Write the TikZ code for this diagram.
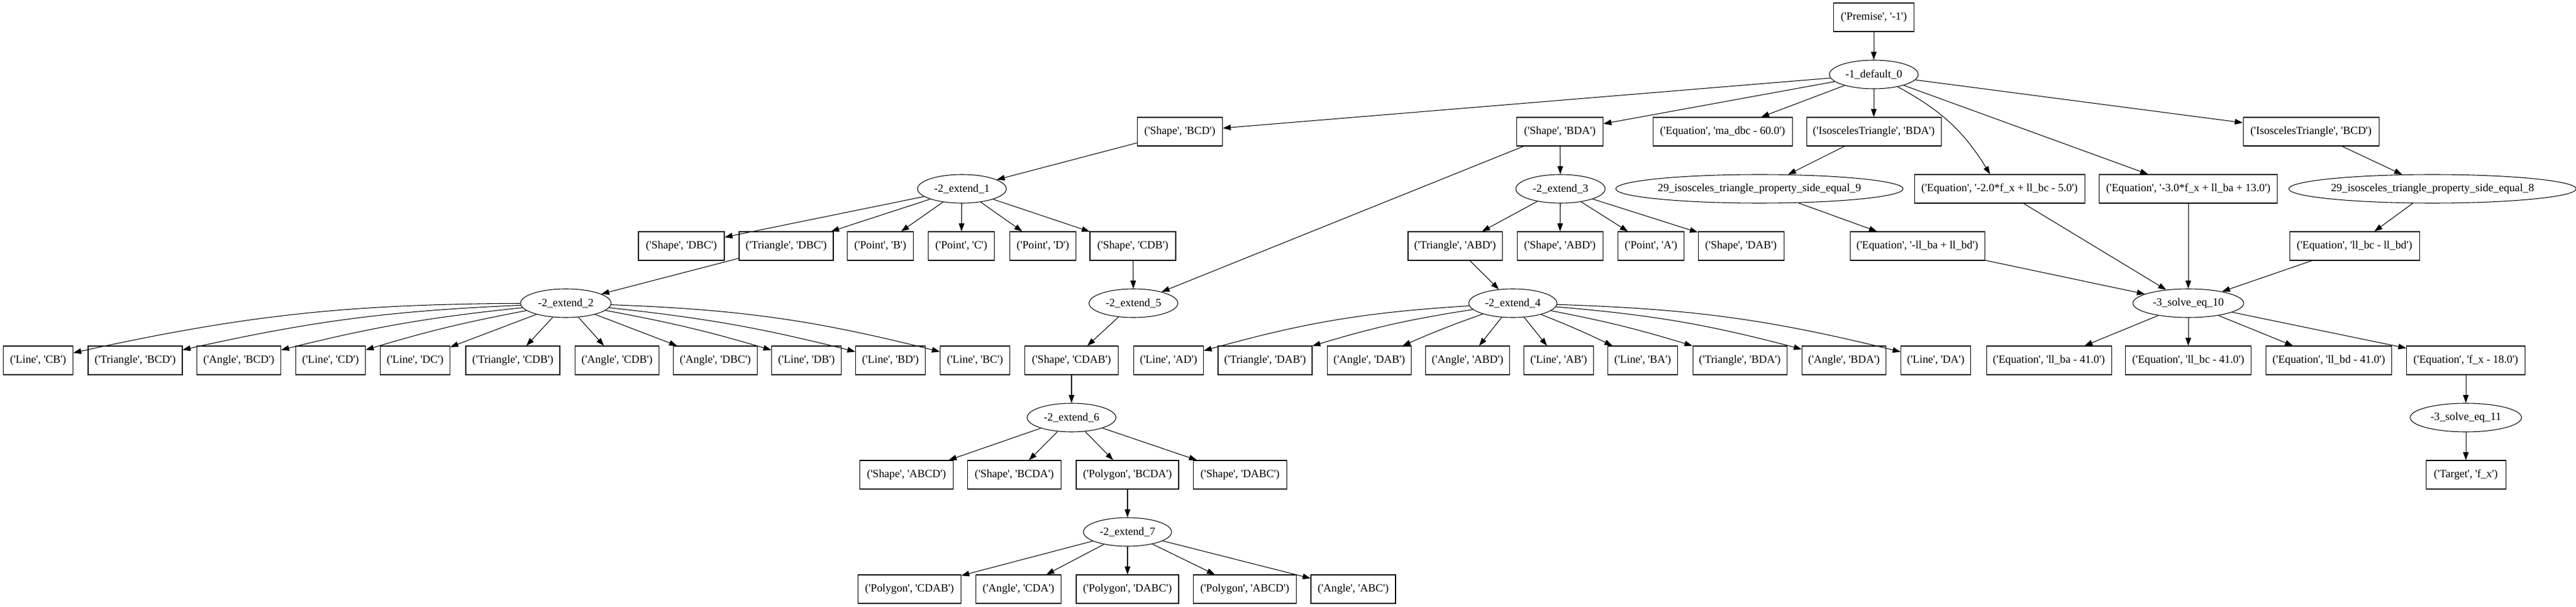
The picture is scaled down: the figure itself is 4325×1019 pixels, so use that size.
\documentclass[tikz,border=0pt]{standalone}
\usepackage{fontspec}
\setmainfont{Liberation Serif}[Ligatures=TeXOff]
\usetikzlibrary{shapes.geometric,arrows.meta}
\newcommand{\gvfont}{\fontsize{14pt}{16pt}\selectfont}
\begin{document}
\begin{tikzpicture}[x=0.75pt,y=0.75pt,
  box/.style={draw, rectangle, minimum height=36pt, inner xsep=3pt, inner ysep=0pt, line width=0.8pt, font=\gvfont},
  bw/.style={minimum width=#1*0.75pt},
  oval/.style={draw, ellipse, minimum height=36pt, inner sep=0pt, line width=0.8pt, font=\gvfont},
  arr/.style={-{Triangle[length=10pt,width=7pt]}, line width=0.8pt}]
\useasboundingbox (0,0) rectangle (4325,-1019);
% row 0-2
\node[box,bw=135] (prem) at (3146,-29) {('Premise', '-1')};
\node[oval,bw=149] (d0) at (3146,-125) {-1\_default\_0};
\node[box,bw=143] (sBCD) at (1981,-221) {('Shape', 'BCD')};
\node[box,bw=145] (sBDA) at (2619,-221) {('Shape', 'BDA')};
\node[box,bw=234] (eqma) at (2892,-221) {('Equation', 'ma\_dbc - 60.0')};
\node[box,bw=226] (itBDA) at (3146,-221) {('IsoscelesTriangle', 'BDA')};
\node[box,bw=228] (itBCD) at (3880,-221) {('IsoscelesTriangle', 'BCD')};
% row 3
\node[oval,bw=149] (e1) at (1615,-317) {-2\_extend\_1};
\node[oval,bw=150] (e3) at (2620,-317) {-2\_extend\_3};
\node[oval,bw=469] (i9) at (2954,-317) {29\_isosceles\_triangle\_property\_side\_equal\_9};
\node[box,bw=286] (eq2) at (3357,-317) {('Equation', '-2.0*f\_x + ll\_bc - 5.0')};
\node[box,bw=299] (eq3) at (3674,-317) {('Equation', '-3.0*f\_x + ll\_ba + 13.0')};
\node[oval,bw=470] (i8) at (4084,-317) {29\_isosceles\_triangle\_property\_side\_equal\_8};
% row 4
\node[box,bw=144] (sDBC) at (1144,-413) {('Shape', 'DBC')};
\node[box,bw=158] (tDBC) at (1320,-413) {('Triangle', 'DBC')};
\node[box,bw=111] (pB) at (1478,-413) {('Point', 'B')};
\node[box,bw=111] (pC) at (1614,-413) {('Point', 'C')};
\node[box,bw=111] (pD) at (1751,-413) {('Point', 'D')};
\node[box,bw=144] (sCDB) at (1902,-413) {('Shape', 'CDB')};
\node[box,bw=158] (tABD) at (2443,-413) {('Triangle', 'ABD')};
\node[box,bw=144] (sABD) at (2619,-413) {('Shape', 'ABD')};
\node[box,bw=111] (pA) at (2772,-413) {('Point', 'A')};
\node[box,bw=144] (sDAB) at (2923,-413) {('Shape', 'DAB')};
\node[box,bw=226] (eqbabd) at (3219,-413) {('Equation', '-ll\_ba + ll\_bd')};
\node[box,bw=218] (eqbcbd) at (3953,-413) {('Equation', 'll\_bc - ll\_bd')};
% row 5
\node[oval,bw=152] (e2) at (950,-509) {-2\_extend\_2};
\node[oval,bw=149] (e5) at (1903,-509) {-2\_extend\_5};
\node[oval,bw=148] (e4) at (2540,-509) {-2\_extend\_4};
\node[oval,bw=186] (s10) at (3674,-509) {-3\_solve\_eq\_10};
% row 6
\node[box,bw=117] (lCB) at (64,-605) {('Line', 'CB')};
\node[box,bw=158] (tBCD) at (227,-605) {('Triangle', 'BCD')};
\node[box,bw=141] (aBCD) at (401,-605) {('Angle', 'BCD')};
\node[box,bw=117] (lCD) at (555,-605) {('Line', 'CD')};
\node[box,bw=117] (lDC) at (697,-605) {('Line', 'DC')};
\node[box,bw=158] (tCDB) at (861,-605) {('Triangle', 'CDB')};
\node[box,bw=141] (aCDB) at (1036,-605) {('Angle', 'CDB')};
\node[box,bw=141] (aDBC) at (1201,-605) {('Angle', 'DBC')};
\node[box,bw=117] (lDB) at (1354,-605) {('Line', 'DB')};
\node[box,bw=117] (lBD) at (1495,-605) {('Line', 'BD')};
\node[box,bw=117] (lBC) at (1637,-605) {('Line', 'BC')};
\node[box,bw=157] (sCDAB) at (1799,-605) {('Shape', 'CDAB')};
\node[box,bw=117] (lAD) at (1962,-605) {('Line', 'AD')};
\node[box,bw=158] (tDAB) at (2124,-605) {('Triangle', 'DAB')};
\node[box,bw=141] (aDAB) at (2299,-605) {('Angle', 'DAB')};
\node[box,bw=141] (aABD) at (2464,-605) {('Angle', 'ABD')};
\node[box,bw=117] (lAB) at (2617,-605) {('Line', 'AB')};
\node[box,bw=117] (lBA) at (2758,-605) {('Line', 'BA')};
\node[box,bw=158] (tBDA) at (2921,-605) {('Triangle', 'BDA')};
\node[box,bw=141] (aBDA) at (3096,-605) {('Angle', 'BDA')};
\node[box,bw=117] (lDA) at (3250,-605) {('Line', 'DA')};
\node[box,bw=210] (eqba41) at (3440,-605) {('Equation', 'll\_ba - 41.0')};
\node[box,bw=211] (eqbc41) at (3674,-605) {('Equation', 'll\_bc - 41.0')};
\node[box,bw=211] (eqbd41) at (3910,-605) {('Equation', 'll\_bd - 41.0')};
\node[box,bw=199] (eqfx18) at (4140,-605) {('Equation', 'f\_x - 18.0')};
% row 7
\node[oval,bw=149] (e6) at (1799,-701) {-2\_extend\_6};
\node[oval,bw=187] (s11) at (4140,-701) {-3\_solve\_eq\_11};
% row 8
\node[box,bw=157] (sABCD) at (1522,-797) {('Shape', 'ABCD')};
\node[box,bw=157] (sBCDA) at (1703,-797) {('Shape', 'BCDA')};
\node[box,bw=172] (pBCDA) at (1893,-797) {('Polygon', 'BCDA')};
\node[box,bw=157] (sDABC) at (2082,-797) {('Shape', 'DABC')};
\node[box,bw=134] (target) at (4140,-797) {('Target', 'f\_x')};
% row 9
\node[oval,bw=148] (e7) at (1893,-893) {-2\_extend\_7};
% row 10
\node[box,bw=173] (pCDAB) at (1527,-989) {('Polygon', 'CDAB')};
\node[box,bw=143] (aCDA) at (1710,-989) {('Angle', 'CDA')};
\node[box,bw=172] (pDABC) at (1893,-989) {('Polygon', 'DABC')};
\node[box,bw=173] (pABCD) at (2090,-989) {('Polygon', 'ABCD')};
\node[box,bw=142] (aABC) at (2272,-989) {('Angle', 'ABC')};
% edges
\draw[arr] (prem) -- (d0);
\draw[arr] (d0) -- (sBCD);
\draw[arr] (d0) -- (sBDA);
\draw[arr] (d0) -- (eqma);
\draw[arr] (d0) -- (itBDA);
\draw[arr] (d0) to[bend left=15] (eq2);
\draw[arr] (d0) -- (eq3);
\draw[arr] (d0) -- (itBCD);
\draw[arr] (sBCD) -- (e1);
\draw[arr] (sBDA) -- (e5);
\draw[arr] (sBDA) -- (e3);
\draw[arr] (itBDA) -- (i9);
\draw[arr] (i9) -- (eqbabd);
\draw[arr] (itBCD) -- (i8);
\draw[arr] (i8) -- (eqbcbd);
\draw[arr] (eq2) -- (s10);
\draw[arr] (eq3) -- (s10);
\draw[arr] (eqbabd) -- (s10);
\draw[arr] (eqbcbd) -- (s10);
\draw[arr] (e1) -- (sDBC);
\draw[arr] (e1) -- (tDBC);
\draw[arr] (e1) -- (pB);
\draw[arr] (e1) -- (pC);
\draw[arr] (e1) -- (pD);
\draw[arr] (e1) -- (sCDB);
\draw[arr] (tDBC) -- (e2);
\draw[arr] (sCDB) -- (e5);
\draw[arr] (e3) -- (tABD);
\draw[arr] (e3) -- (sABD);
\draw[arr] (e3) -- (pA);
\draw[arr] (e3) -- (sDAB);
\draw[arr] (tABD) -- (e4);
% e2 fan
\draw[arr] (e2) to[bend right=6] (lCB);
\draw[arr] (e2) to[bend right=5] (tBCD);
\draw[arr] (e2) to[bend right=4] (aBCD);
\draw[arr] (e2) to[bend right=3] (lCD);
\draw[arr] (e2) -- (lDC);
\draw[arr] (e2) -- (tCDB);
\draw[arr] (e2) -- (aCDB);
\draw[arr] (e2) -- (aDBC);
\draw[arr] (e2) to[bend left=3] (lDB);
\draw[arr] (e2) to[bend left=4] (lBD);
\draw[arr] (e2) to[bend left=6] (lBC);
% e4 fan
\draw[arr] (e4) to[bend right=6] (lAD);
\draw[arr] (e4) to[bend right=4] (tDAB);
\draw[arr] (e4) to[bend right=2] (aDAB);
\draw[arr] (e4) -- (aABD);
\draw[arr] (e4) -- (lAB);
\draw[arr] (e4) to[bend left=2] (lBA);
\draw[arr] (e4) to[bend left=3] (tBDA);
\draw[arr] (e4) to[bend left=5] (aBDA);
\draw[arr] (e4) to[bend left=6] (lDA);
% lower
\draw[arr] (e5) -- (sCDAB);
\draw[arr] (sCDAB) -- (e6);
\draw[arr] (e6) -- (sABCD);
\draw[arr] (e6) -- (sBCDA);
\draw[arr] (e6) -- (pBCDA);
\draw[arr] (e6) -- (sDABC);
\draw[arr] (pBCDA) -- (e7);
\draw[arr] (e7) -- (pCDAB);
\draw[arr] (e7) -- (aCDA);
\draw[arr] (e7) -- (pDABC);
\draw[arr] (e7) -- (pABCD);
\draw[arr] (e7) -- (aABC);
\draw[arr] (s10) -- (eqba41);
\draw[arr] (s10) -- (eqbc41);
\draw[arr] (s10) -- (eqbd41);
\draw[arr] (s10) -- (eqfx18);
\draw[arr] (eqfx18) -- (s11);
\draw[arr] (s11) -- (target);
\end{tikzpicture}
\end{document}
